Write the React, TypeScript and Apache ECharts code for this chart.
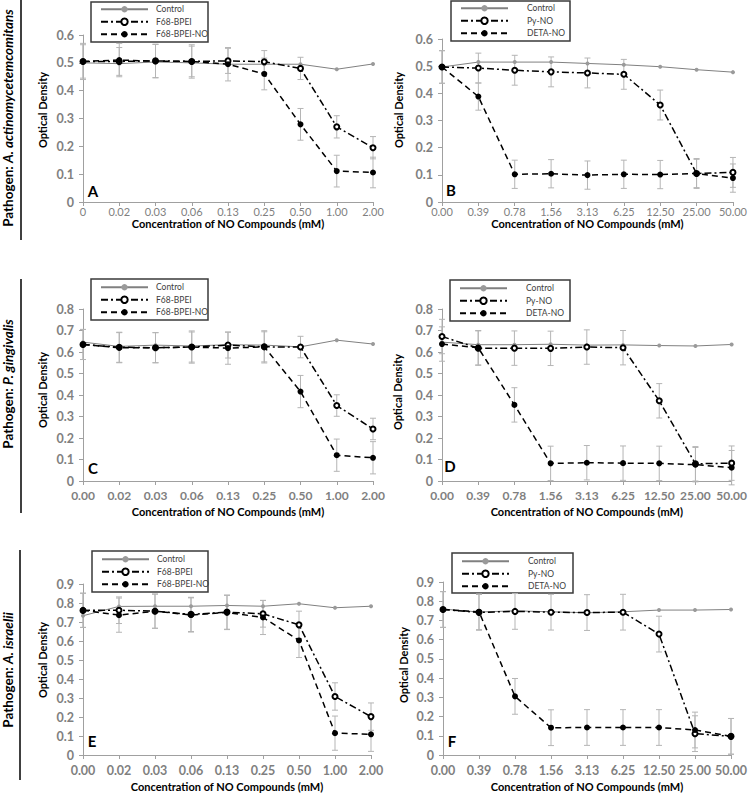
import React, { useEffect, useRef } from "react";
import * as echarts from "echarts";

const FONT = 'Lato, "DejaVu Sans", sans-serif';

// ---- categories ----
const catA = ["0", "0.02", "0.03", "0.06", "0.13", "0.25", "0.50", "1.00", "2.00"];
const catCE = ["0.00", "0.02", "0.03", "0.06", "0.13", "0.25", "0.50", "1.00", "2.00"];
const catBDF = ["0.00", "0.39", "0.78", "1.56", "3.13", "6.25", "12.50", "25.00", "50.00"];

const namesACE = ["Control", "F68-BPEI", "F68-BPEI-NO"];
const namesBDF = ["Control", "Py-NO", "DETA-NO"];

// ---- Panel A (A. actinomycetemcomitans, F68-BPEI) ----
const ctrlA = [0.5, 0.497, 0.503, 0.5, 0.495, 0.495, 0.495, 0.477, 0.496];
const bpeiA = [0.505, 0.505, 0.507, 0.505, 0.507, 0.504, 0.48, 0.27, 0.195];
const bpeiNoA = [0.505, 0.51, 0.506, 0.505, 0.495, 0.46, 0.279, 0.111, 0.106];
const errBpeiA = [0.06, 0.05, 0.06, 0.055, 0.045, 0.04, 0.04, 0.04, 0.04];
const errBpeiNoA = [0.065, 0.06, 0.06, 0.06, 0.06, 0.057, 0.057, 0.057, 0.055];

// ---- Panel B (A. actinomycetemcomitans, Py-NO / DETA-NO) ----
const ctrlB = [0.497, 0.515, 0.515, 0.515, 0.51, 0.505, 0.498, 0.487, 0.478];
const pyB = [0.497, 0.493, 0.485, 0.479, 0.475, 0.47, 0.357, 0.105, 0.109];
const detaB = [0.497, 0.388, 0.102, 0.104, 0.099, 0.102, 0.101, 0.105, 0.088];
const errPyB = [0.06, 0.055, 0.055, 0.055, 0.055, 0.055, 0.055, 0.055, 0.055];
const errDetaB = [0.06, 0.05, 0.052, 0.052, 0.052, 0.052, 0.052, 0.052, 0.052];

// ---- Panel C (P. gingivalis, F68-BPEI) ----
const ctrlC = [0.646, 0.626, 0.632, 0.628, 0.634, 0.632, 0.624, 0.655, 0.637];
const bpeiC = [0.635, 0.622, 0.62, 0.623, 0.632, 0.624, 0.623, 0.351, 0.242];
const bpeiNoC = [0.635, 0.62, 0.62, 0.623, 0.618, 0.624, 0.416, 0.12, 0.108];
const errBpeiC = [0.07, 0.07, 0.07, 0.07, 0.06, 0.07, 0.05, 0.05, 0.05];
const errBpeiNoC = [0.07, 0.07, 0.07, 0.075, 0.075, 0.075, 0.075, 0.075, 0.075];

// ---- Panel D (P. gingivalis, Py-NO / DETA-NO) ----
const ctrlD = [0.646, 0.634, 0.634, 0.636, 0.632, 0.633, 0.63, 0.628, 0.635];
const pyD = [0.672, 0.618, 0.618, 0.617, 0.623, 0.62, 0.373, 0.08, 0.083];
const detaD = [0.637, 0.62, 0.354, 0.082, 0.085, 0.083, 0.082, 0.076, 0.062];
const errPyD = [0.08, 0.08, 0.08, 0.08, 0.08, 0.08, 0.08, 0.08, 0.08];
const errDetaD = [0.08, 0.08, 0.08, 0.08, 0.08, 0.08, 0.08, 0.08, 0.08];

// ---- Panel E (A. israelii, F68-BPEI) ----
const ctrlE = [0.733, 0.782, 0.783, 0.783, 0.787, 0.783, 0.796, 0.775, 0.783];
const bpeiE = [0.761, 0.762, 0.757, 0.74, 0.752, 0.743, 0.685, 0.308, 0.202];
const bpeiNoE = [0.762, 0.736, 0.757, 0.737, 0.75, 0.724, 0.603, 0.115, 0.109];
const errBpeiE = [0.09, 0.07, 0.09, 0.09, 0.09, 0.07, 0.072, 0.072, 0.072];
const errBpeiNoE = [0.09, 0.09, 0.09, 0.09, 0.09, 0.09, 0.09, 0.09, 0.09];

// ---- Panel F (A. israelii, Py-NO / DETA-NO) ----
const ctrlF = [0.759, 0.744, 0.75, 0.745, 0.74, 0.745, 0.754, 0.754, 0.757];
const pyF = [0.757, 0.742, 0.747, 0.743, 0.741, 0.743, 0.629, 0.111, 0.097];
const detaF = [0.757, 0.745, 0.305, 0.142, 0.143, 0.143, 0.143, 0.13, 0.097];
const errPyF = [0.093, 0.093, 0.093, 0.093, 0.093, 0.093, 0.093, 0.093, 0.093];
const errDetaF = [0.093, 0.093, 0.093, 0.093, 0.093, 0.093, 0.093, 0.093, 0.093];

const panels = [
  { letter: "A", cats: catA, yMax: 0.6, names: namesACE, ctrl: ctrlA, s1: bpeiA, s2: bpeiNoA, e1: errBpeiA, e2: errBpeiNoA,
    grid: { left: 83, top: 35, width: 290, height: 167 }, legend: { left: 91, top: 2 }, box: [91, 2, 117, 40], textPad: 3,
    xFont: 11, xBold: false, xMargin: 4, nameGap: 16, yName: [42, 110], letterPos: [93, 191] },
  { letter: "B", cats: catBDF, yMax: 0.6, names: namesBDF, ctrl: ctrlB, s1: pyB, s2: detaB, e1: errPyB, e2: errDetaB,
    grid: { left: 442, top: 39, width: 291, height: 163 }, legend: { left: 451, top: 1 }, box: [451, 1, 119, 40], textPad: 14,
    xFont: 11, xBold: false, xMargin: 4, nameGap: 16, yName: [398, 110], letterPos: [451, 190] },
  { letter: "C", cats: catCE, yMax: 0.8, names: namesACE, ctrl: ctrlC, s1: bpeiC, s2: bpeiNoC, e1: errBpeiC, e2: errBpeiNoC,
    grid: { left: 83, top: 309, width: 290, height: 172 }, legend: { left: 91, top: 280 }, box: [91, 279, 117, 41], textPad: 3,
    xFont: 12, xBold: true, xMargin: 8, nameGap: 25, yName: [42, 390], letterPos: [93, 468] },
  { letter: "D", cats: catBDF, yMax: 0.8, names: namesBDF, ctrl: ctrlD, s1: pyD, s2: detaD, e1: errPyD, e2: errDetaD,
    grid: { left: 442, top: 309, width: 292, height: 172 }, legend: { left: 450, top: 281 }, box: [450, 280, 120, 41], textPad: 14,
    xFont: 12, xBold: true, xMargin: 8, nameGap: 25, yName: [397, 392], letterPos: [450, 466] },
  { letter: "E", cats: catCE, yMax: 0.9, names: namesACE, ctrl: ctrlE, s1: bpeiE, s2: bpeiNoE, e1: errBpeiE, e2: errBpeiNoE,
    grid: { left: 83, top: 584, width: 288, height: 171 }, legend: { left: 92, top: 552 }, box: [92, 551, 116, 41], textPad: 3,
    xFont: 12.5, xBold: true, xMargin: 9, nameGap: 26, yName: [42, 660], letterPos: [92, 741] },
  { letter: "F", cats: catBDF, yMax: 0.9, names: namesBDF, ctrl: ctrlF, s1: pyF, s2: detaF, e1: errPyF, e2: errDetaF,
    grid: { left: 443, top: 582, width: 294, height: 173 }, legend: { left: 452, top: 554 }, box: [452, 553, 121, 40], textPad: 14,
    xFont: 12.5, xBold: true, xMargin: 9, nameGap: 26, yName: [403, 665], letterPos: [452, 741] },
];

const pathogens = [
  { species: "A. actinomycetemcomitans", x: 8, y: 118, line: [21, 0, 240] },
  { species: "P. gingivalis", x: 8, y: 384, line: [21, 279, 513] },
  { species: "A. israelii", x: 8, y: 670, line: [20, 550, 780] },
];

const ERR_COLOR = "#b5b5b5";

function errRender(params: any, api: any) {
  const x = api.value(0);
  const lo = api.value(1);
  const hi = api.value(2);
  const p1 = api.coord([x, hi]);
  const p2 = api.coord([x, lo]);
  const w = 3;
  const st = { stroke: ERR_COLOR, lineWidth: 1 };
  return {
    type: "group",
    children: [
      { type: "line", shape: { x1: p1[0], y1: p1[1], x2: p2[0], y2: p2[1] }, style: st },
      { type: "line", shape: { x1: p1[0] - w, y1: p1[1], x2: p1[0] + w, y2: p1[1] }, style: st },
      { type: "line", shape: { x1: p2[0] - w, y1: p2[1], x2: p2[0] + w, y2: p2[1] }, style: st },
    ],
  };
}

function buildOption() {
  const series: any[] = [];
  panels.forEach((p, i) => {
    const errSeries = (vals: number[], errs: number[], id: string) => ({
      type: "custom",
      name: "err-" + p.letter + id,
      xAxisIndex: i,
      yAxisIndex: i,
      renderItem: errRender,
      data: vals.map((v, k) => [k, v - errs[k], v + errs[k]]),
      encode: { x: 0, y: [1, 2] },
      z: 1,
      silent: true,
    });
    series.push(errSeries(p.s1, p.e1, "1"));
    series.push(errSeries(p.s2, p.e2, "2"));
    series.push({
      type: "line",
      name: p.names[0],
      xAxisIndex: i,
      yAxisIndex: i,
      data: p.ctrl,
      symbol: "circle",
      symbolSize: 4,
      lineStyle: { color: "#808080", width: 1, type: "solid" },
      itemStyle: { color: "#9a9a9a" },
      z: 3,
    });
    series.push({
      type: "line",
      name: p.names[1],
      xAxisIndex: i,
      yAxisIndex: i,
      data: p.s1,
      symbol: "emptyCircle",
      symbolSize: 5,
      lineStyle: { color: "#000", width: 1.5, type: [7, 3, 2, 3] },
      itemStyle: { color: "#000", borderColor: "#000", borderWidth: 1.5 },
      z: 4,
    });
    series.push({
      type: "line",
      name: p.names[2],
      xAxisIndex: i,
      yAxisIndex: i,
      data: p.s2,
      symbol: "circle",
      symbolSize: 6,
      lineStyle: { color: "#000", width: 1.5, type: [6, 4] },
      itemStyle: { color: "#000" },
      z: 5,
    });
  });

  const graphic: any[] = [];
  pathogens.forEach((pg) => {
    graphic.push({
      type: "text",
      x: pg.x,
      y: pg.y,
      rotation: Math.PI / 2,
      style: {
        text: "{a|Pathogen: }{b|" + pg.species + "}",
        rich: {
          a: { fontWeight: "bold", fontSize: 13.5, fontFamily: FONT, fill: "#000" },
          b: { fontWeight: "bold", fontStyle: "italic", fontSize: 13.5, fontFamily: FONT, fill: "#000" },
        },
        align: "center",
        verticalAlign: "middle",
      },
    });
    graphic.push({
      type: "line",
      shape: { x1: pg.line[0], y1: pg.line[1], x2: pg.line[0], y2: pg.line[2] },
      style: { stroke: "#000", lineWidth: 1.5 },
    });
  });
  panels.forEach((p) => {
    graphic.push({
      type: "rect",
      shape: { x: p.box[0], y: p.box[1], width: p.box[2], height: p.box[3] },
      style: { fill: "none", stroke: "#3a3a3a", lineWidth: 1.5 },
    });
    graphic.push({
      type: "text",
      x: p.yName[0],
      y: p.yName[1],
      rotation: Math.PI / 2,
      style: {
        text: "Optical Density",
        fontSize: 11,
        fontWeight: "bold",
        fontFamily: FONT,
        fill: "#000",
        align: "center",
        verticalAlign: "middle",
      },
    });
    graphic.push({
      type: "text",
      x: p.letterPos[0],
      y: p.letterPos[1],
      style: {
        text: p.letter,
        fontSize: 15,
        fontWeight: "bold",
        fontFamily: FONT,
        fill: "#000",
        align: "center",
        verticalAlign: "middle",
      },
    });
  });

  return {
    animation: false,
    grid: panels.map((p) => ({ ...p.grid, containLabel: false })),
    xAxis: panels.map((p, i) => ({
      type: "category",
      gridIndex: i,
      data: p.cats,
      boundaryGap: false,
      name: "Concentration of NO Compounds (mM)",
      nameLocation: "middle",
      nameGap: p.nameGap,
      nameTextStyle: { fontWeight: "bold", fontSize: 11, color: "#000", fontFamily: FONT },
      axisLine: { lineStyle: { color: "#a0a0a0", width: 1 } },
      axisTick: { show: true, alignWithLabel: true, length: 4, lineStyle: { color: "#a0a0a0" } },
      axisLabel: {
        color: "#7f7f7f",
        fontSize: p.xFont,
        fontWeight: p.xBold ? "bold" : "normal",
        margin: p.xMargin,
        fontFamily: FONT,
        interval: 0,
      },
      splitLine: { show: false },
    })),
    yAxis: panels.map((p, i) => ({
      type: "value",
      gridIndex: i,
      min: 0,
      max: p.yMax,
      interval: 0.1,
      axisLine: { show: true, lineStyle: { color: "#a0a0a0", width: 1 } },
      axisTick: { show: true, length: 4, lineStyle: { color: "#a0a0a0" } },
      axisLabel: {
        color: "#808080",
        fontSize: 12.5,
        fontWeight: "bold",
        fontFamily: FONT,
        margin: 9,
        formatter: (v: number) => (Math.abs(v) < 1e-9 ? "0" : v.toFixed(1)),
      },
      splitLine: { show: false },
    })),
    legend: panels.map((p) => ({
      left: p.legend.left,
      top: p.legend.top,
      orient: "vertical",
      data: p.names,
      itemWidth: 47,
      itemHeight: 8,
      itemGap: 2,
      padding: [2, 3, 3, 9],
      borderWidth: 0,
      selectedMode: false,
      textStyle: {
        fontSize: 8.5,
        color: "#404040",
        fontFamily: FONT,
        lineHeight: 10.5,
        padding: [0, 0, 0, p.textPad],
      },
    })),
    graphic,
    series,
  };
}

export default function App() {
  const ref = useRef<HTMLDivElement>(null);
  useEffect(() => {
    if (!ref.current) return;
    const chart = echarts.init(ref.current, null, { renderer: "svg" });
    chart.setOption(buildOption() as any);
    return () => chart.dispose();
  }, []);
  return (
    <div
      ref={ref}
      style={{ position: "fixed", left: 0, top: 0, width: 750, height: 793, background: "#fff" }}
    />
  );
}
